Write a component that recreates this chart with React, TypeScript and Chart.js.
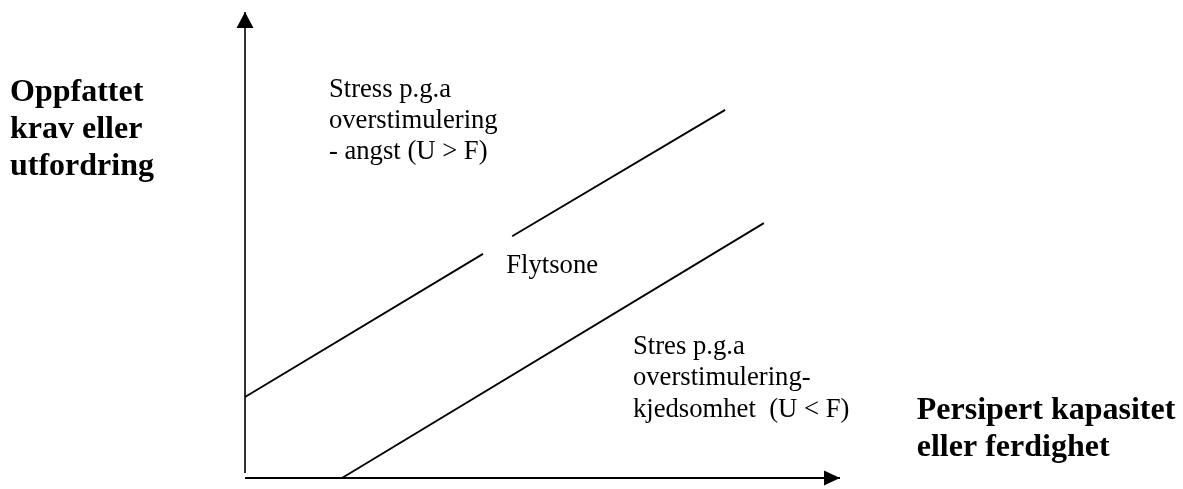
import React, { useEffect, useRef } from 'react';
import { Chart, registerables } from 'chart.js';

Chart.register(...registerables);

// Value window of the drawing (conceptual units: 0..100 along each axis)
const X_MIN = -41.18;
const X_MAX = 157.65;
const Y_MIN = -2.36;
const Y_MAX = 102.58;

// Axes (x: capacity/skill, y: demand/challenge)
const xAxisLineX = [0, 100];
const xAxisLineY = [0, 0];
const yAxisLineX = [0, 0];
const yAxisLineY = [1.07, 100];

// Upper boundary of the flow zone (with a small break)
const upperX = [0, 40.0, 42.5, 44.9, 80.7];
const upperY: (number | null)[] = [17.4, 48.1, null, 51.9, 79.0];

// Lower boundary of the flow zone
const lowerX = [16.3, 87.2];
const lowerY = [0, 54.7];

// Text labels
const yTitleLines = ['Oppfattet', 'krav eller', 'utfordring'];
const xTitleLines = ['Persipert kapasitet', 'eller ferdighet'];
const upperZoneLines = ['Stress p.g.a', 'overstimulering', '- angst (U > F)'];
const flowLines = ['Flytsone'];
const lowerZoneLines = ['Stres p.g.a', 'overstimulering-', 'kjedsomhet  (U < F)'];

const SERIF = '"Liberation Serif", "Times New Roman", serif';

type TextBlock = { lines: string[]; x: number; y: number; bold: boolean };

const textBlocks: TextBlock[] = [
  { lines: yTitleLines, x: -39.5, y: 80.9, bold: true },
  { lines: xTitleLines, x: 112.9, y: 12.6, bold: true },
  { lines: upperZoneLines, x: 14.1, y: 81.8, bold: false },
  { lines: flowLines, x: 43.9, y: 44.0, bold: false },
  { lines: lowerZoneLines, x: 65.2, y: 26.6, bold: false },
];

const zip = (xs: number[], ys: (number | null)[]) => xs.map((x, i) => ({ x, y: ys[i] }));

const decorPlugin = {
  id: 'decor',
  afterDatasetsDraw(chart: any) {
    const { ctx } = chart;
    const xs = chart.scales.x;
    const ys = chart.scales.y;
    ctx.save();
    ctx.fillStyle = '#000';
    // arrowhead on x axis
    const xtx = xs.getPixelForValue(xAxisLineX[1]);
    const xty = ys.getPixelForValue(xAxisLineY[1]);
    ctx.beginPath();
    ctx.moveTo(xtx, xty);
    ctx.lineTo(xtx - 16, xty - 7.5);
    ctx.lineTo(xtx - 16, xty + 7.5);
    ctx.closePath();
    ctx.fill();
    // arrowhead on y axis
    const ytx = xs.getPixelForValue(yAxisLineX[1]);
    const yty = ys.getPixelForValue(yAxisLineY[1]);
    ctx.beginPath();
    ctx.moveTo(ytx, yty);
    ctx.lineTo(ytx - 8.5, yty + 16);
    ctx.lineTo(ytx + 8.5, yty + 16);
    ctx.closePath();
    ctx.fill();
    // texts
    ctx.textAlign = 'left';
    ctx.textBaseline = 'alphabetic';
    for (const b of textBlocks) {
      const size = b.bold ? 32 : 26.67;
      const lh = b.bold ? 37 : 31.3;
      ctx.font = `${b.bold ? 'bold ' : ''}${size}px ${SERIF}`;
      const px = xs.getPixelForValue(b.x);
      const py = ys.getPixelForValue(b.y);
      b.lines.forEach((line, i) => ctx.fillText(line, px, py + i * lh));
    }
    ctx.restore();
  },
};

export default function App() {
  const ref = useRef<HTMLCanvasElement | null>(null);
  useEffect(() => {
    if (!ref.current) return;
    const lineDs = (data: any[], width: number) => ({
      type: 'line' as const,
      data,
      borderColor: '#000',
      borderWidth: width,
      pointRadius: 0,
      showLine: true,
      spanGaps: false,
      fill: false,
      tension: 0,
      clip: false as any,
    });
    const chart = new Chart(ref.current, {
      type: 'scatter',
      data: {
        datasets: [
          lineDs(zip(xAxisLineX, xAxisLineY), 2.2),
          lineDs(zip(yAxisLineX, yAxisLineY), 1.6),
          lineDs(zip(upperX, upperY), 1.8),
          lineDs(zip(lowerX, lowerY), 1.8),
        ],
      },
      options: {
        animation: false,
        responsive: true,
        maintainAspectRatio: false,
        layout: { padding: 0 },
        plugins: { legend: { display: false }, tooltip: { enabled: false }, title: { display: false } },
        scales: {
          x: { type: 'linear', min: X_MIN, max: X_MAX, display: false },
          y: { type: 'linear', min: Y_MIN, max: Y_MAX, display: false },
        },
      },
      plugins: [decorPlugin],
    });
    return () => chart.destroy();
  }, []);
  return (
    <div style={{ position: 'fixed', left: 0, top: 0, width: 1183, height: 489, background: '#fff' }}>
      <canvas ref={ref} />
    </div>
  );
}
